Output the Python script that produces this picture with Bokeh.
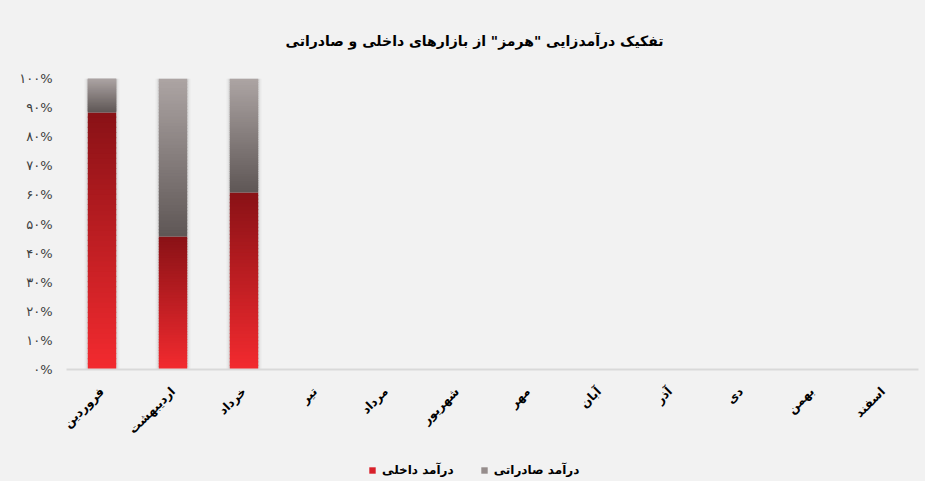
from bokeh.plotting import figure
from bokeh.layouts import column
from bokeh.models import FactorRange, Range1d, FixedTicker, Legend, LegendItem, ColumnDataSource
from bokeh.embed import file_html
from bokeh.resources import INLINE

months = ["فروردین", "اردیبهشت", "خرداد", "تیر", "مرداد", "شهریور",
          "مهر", "آبان", "آذر", "دی", "بهمن", "اسفند"]
domestic = [88.3, 45.7, 60.8]   # percent
export = [11.7, 54.3, 39.2]     # percent
y_ticks = [0, 10, 20, 30, 40, 50, 60, 70, 80, 90, 100]
y_tick_labels = ["۰%", "۱۰%", "۲۰%", "۳۰%", "۴۰%", "۵۰%", "۶۰%", "۷۰%", "۸۰%", "۹۰%", "۱۰۰%"]
title_text = 'تفکیک درآمدزایی "هرمز" از بازارهای داخلی و صادراتی'
legend_domestic = "درآمد داخلی"
legend_export = "درآمد صادراتی"

FONT = "DejaVu Sans"
BG = "#f2f2f2"

p = figure(frame_width=852, frame_height=291, x_range=FactorRange(*months, range_padding=0),
           y_range=Range1d(0, 100), output_backend="svg", toolbar_location=None,
           background_fill_color=BG, border_fill_color=BG,
           min_border_left=66, min_border_right=7, min_border_top=77, min_border_bottom=80)
p.outline_line_color = None
p.grid.visible = False

p.title.text = title_text
p.title.align = "left"
p.title.text_font = FONT
p.title.text_font_size = "14px"
p.title.text_font_style = "bold"
p.title.text_color = "#000000"
p.title.offset = 219
p.title.standoff = 60


def hexmix(c1, c2, t):
    a = [int(c1[i:i + 2], 16) for i in (1, 3, 5)]
    b = [int(c2[i:i + 2], 16) for i in (1, 3, 5)]
    return "#%02x%02x%02x" % tuple(round(a[j] + (b[j] - a[j]) * t) for j in range(3))


# shadows
n = len(domestic)
bars_x = months[:n]
totals = [d + e for d, e in zip(domestic, export)]
for w, a in [(0.50, 0.05), (0.46, 0.08), (0.43, 0.12)]:
    p.vbar(x=bars_x, top=totals, bottom=0, width=w,
           fill_color="#808080", fill_alpha=a, line_color=None)

N = 50
xs, bots, tops, cols = [], [], [], []
for i in range(n):
    d = domestic[i]
    e = export[i]
    for k in range(N):
        t = k / (N - 1)
        xs.append(months[i]); bots.append(d * k / N); tops.append(min(d * (k + 1) / N + 0.4, d))
        cols.append(hexmix("#f22a2f", "#8a1216", t))
    for k in range(N):
        t = k / (N - 1)
        xs.append(months[i]); bots.append(d + e * k / N); tops.append(min(d + e * (k + 1) / N + 0.4, d + e))
        cols.append(hexmix("#5f5756", "#aca4a3", t))

src = ColumnDataSource(dict(x=xs, bottom=bots, top=tops, color=cols))
p.vbar(x="x", bottom="bottom", top="top", width=0.4, fill_color="color", line_color=None, source=src)

# axes
p.yaxis.ticker = FixedTicker(ticks=y_ticks)
p.yaxis.major_label_overrides = {t: l for t, l in zip(y_ticks, y_tick_labels)}
p.yaxis.axis_line_color = None
p.yaxis.major_tick_line_color = None
p.yaxis.minor_tick_line_color = None
p.yaxis.major_label_text_font = FONT
p.yaxis.major_label_text_font_size = "13px"
p.yaxis.major_label_text_color = "#404040"
p.yaxis.major_label_standoff = 8

p.xaxis.axis_line_color = "#d9d9d9"
p.xaxis.axis_line_width = 2
p.xaxis.major_tick_line_color = None
p.xaxis.minor_tick_line_color = None
p.xaxis.major_label_orientation = 0.785
p.xaxis.major_label_text_font = FONT
p.xaxis.major_label_text_font_size = "12px"
p.xaxis.major_label_text_font_style = "bold"
p.xaxis.major_label_text_color = "#000000"
p.xaxis.major_label_standoff = 14

# legend strip below the chart
lf = figure(width=925, height=32, x_range=Range1d(0, 1), y_range=Range1d(0, 1),
            output_backend="svg", toolbar_location=None,
            background_fill_color=None, border_fill_color=BG, min_border=0)
lf.outline_line_color = None
lf.axis.visible = False
lf.grid.visible = False
r_dom = lf.vbar(x=[0], top=[0], bottom=[0], width=0.1, fill_color="#d8202a", line_color=None)
r_exp = lf.vbar(x=[0], top=[0], bottom=[0], width=0.1, fill_color="#968d8c", line_color=None)
legend = Legend(items=[LegendItem(label=legend_domestic, renderers=[r_dom]),
                       LegendItem(label=legend_export, renderers=[r_exp])],
                orientation="horizontal", location=(302, 4),
                background_fill_alpha=0, border_line_color=None,
                label_text_font=FONT, label_text_font_size="12px", label_text_font_style="bold",
                label_text_color="#000000",
                glyph_width=8, glyph_height=8, spacing=26, label_standoff=6,
                margin=0, padding=2)
lf.add_layout(legend, "center")

layout = column(p, lf, spacing=0)
layout.styles = {"background-color": BG}
open("out.html", "w").write(file_html(layout, INLINE))
